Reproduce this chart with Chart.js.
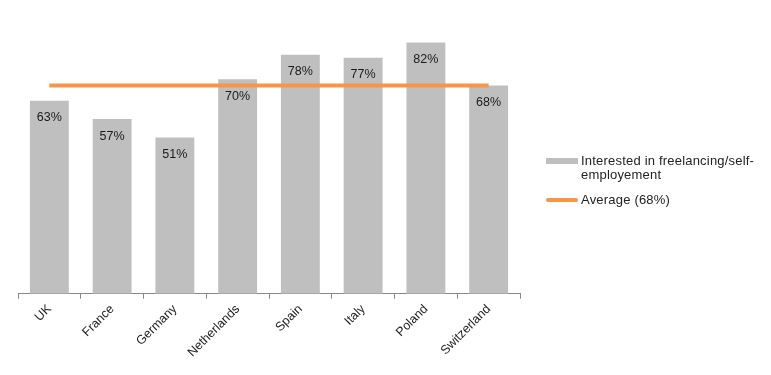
<!DOCTYPE html>
<html lang="en">
<head>
    <meta charset="UTF-8">
    <title>Interest in freelancing / self-employment</title>
    <script src="https://cdn.jsdelivr.net/npm/chart.js"></script>
    <style>
        body {
            margin: 0;
            font-family: Arial, "Liberation Sans", sans-serif;
            background: #fff;
        }
        .wrap {
            position: relative;
            width: 771px;
            height: 375px;
        }
        .legend {
            position: absolute;
            left: 546px;
            top: 154px;
            font-size: 13px;
            letter-spacing: 0.2px;
            color: #222;
        }
        .legend .item {
            display: flex;
            align-items: flex-start;
            margin-bottom: 11px;
            line-height: 14px;
        }
        .legend .swatch {
            width: 32px;
            flex: none;
            margin-top: 4px;
            margin-right: 3px;
        }
    </style>
</head>
<body>
<div class="wrap">
    <canvas id="chart" width="771" height="375"></canvas>
    <div class="legend">
        <div class="item">
            <span class="swatch" style="height:6px;background:#bfbfbf;"></span>
            <span>Interested in freelancing/self-<br>employement</span>
        </div>
        <div class="item">
            <span class="swatch" style="height:4px;background:#f79646;border-radius:2px;margin-top:5px;"></span>
            <span>Average (68%)</span>
        </div>
    </div>
</div>
<script>
    const countries = ['UK', 'France', 'Germany', 'Netherlands', 'Spain', 'Italy', 'Poland', 'Switzerland'];
    const interested = [63, 57, 51, 70, 78, 77, 82, 68];
    const average = 68;
    const averageLine = countries.map(() => average);

    // writes the % value just inside the top of each bar
    const barLabels = {
        id: 'barLabels',
        afterDatasetsDraw(chart) {
            const ctx = chart.ctx;
            const meta = chart.getDatasetMeta(1);
            ctx.save();
            ctx.font = '12.5px Arial, "Liberation Sans", sans-serif';
            ctx.fillStyle = '#1a1a1a';
            ctx.textAlign = 'center';
            ctx.textBaseline = 'middle';
            meta.data.forEach((bar, i) => {
                ctx.fillText(interested[i] + '%', bar.x, bar.y + 17);
            });
            ctx.restore();
        }
    };

    new Chart(document.getElementById('chart'), {
        data: {
            labels: countries,
            datasets: [
                {
                    type: 'line',
                    label: 'Average (68%)',
                    data: averageLine,
                    borderColor: '#f79646',
                    borderWidth: 4,
                    pointRadius: 0,
                    fill: false,
                    order: 0
                },
                {
                    type: 'bar',
                    label: 'Interested in freelancing/self-employement',
                    data: interested,
                    backgroundColor: '#bfbfbf',
                    categoryPercentage: 1,
                    barPercentage: 0.62,
                    order: 1
                }
            ]
        },
        options: {
            responsive: false,
            animation: false,
            layout: {
                padding: { left: 18, right: 251, top: 18, bottom: 12 }
            },
            plugins: {
                legend: { display: false },
                tooltip: { enabled: false }
            },
            scales: {
                x: {
                    offset: true,
                    grid: {
                        offset: true,
                        drawOnChartArea: false,
                        drawTicks: true,
                        tickLength: 5,
                        color: '#888'
                    },
                    border: { color: '#888' },
                    ticks: {
                        minRotation: 45,
                        maxRotation: 45,
                        padding: 3,
                        color: '#222',
                        font: { family: 'Arial, "Liberation Sans", sans-serif', size: 12.5 }
                    }
                },
                y: {
                    display: false,
                    min: 0,
                    max: 90
                }
            }
        },
        plugins: [barLabels]
    });
</script>
</body>
</html>
